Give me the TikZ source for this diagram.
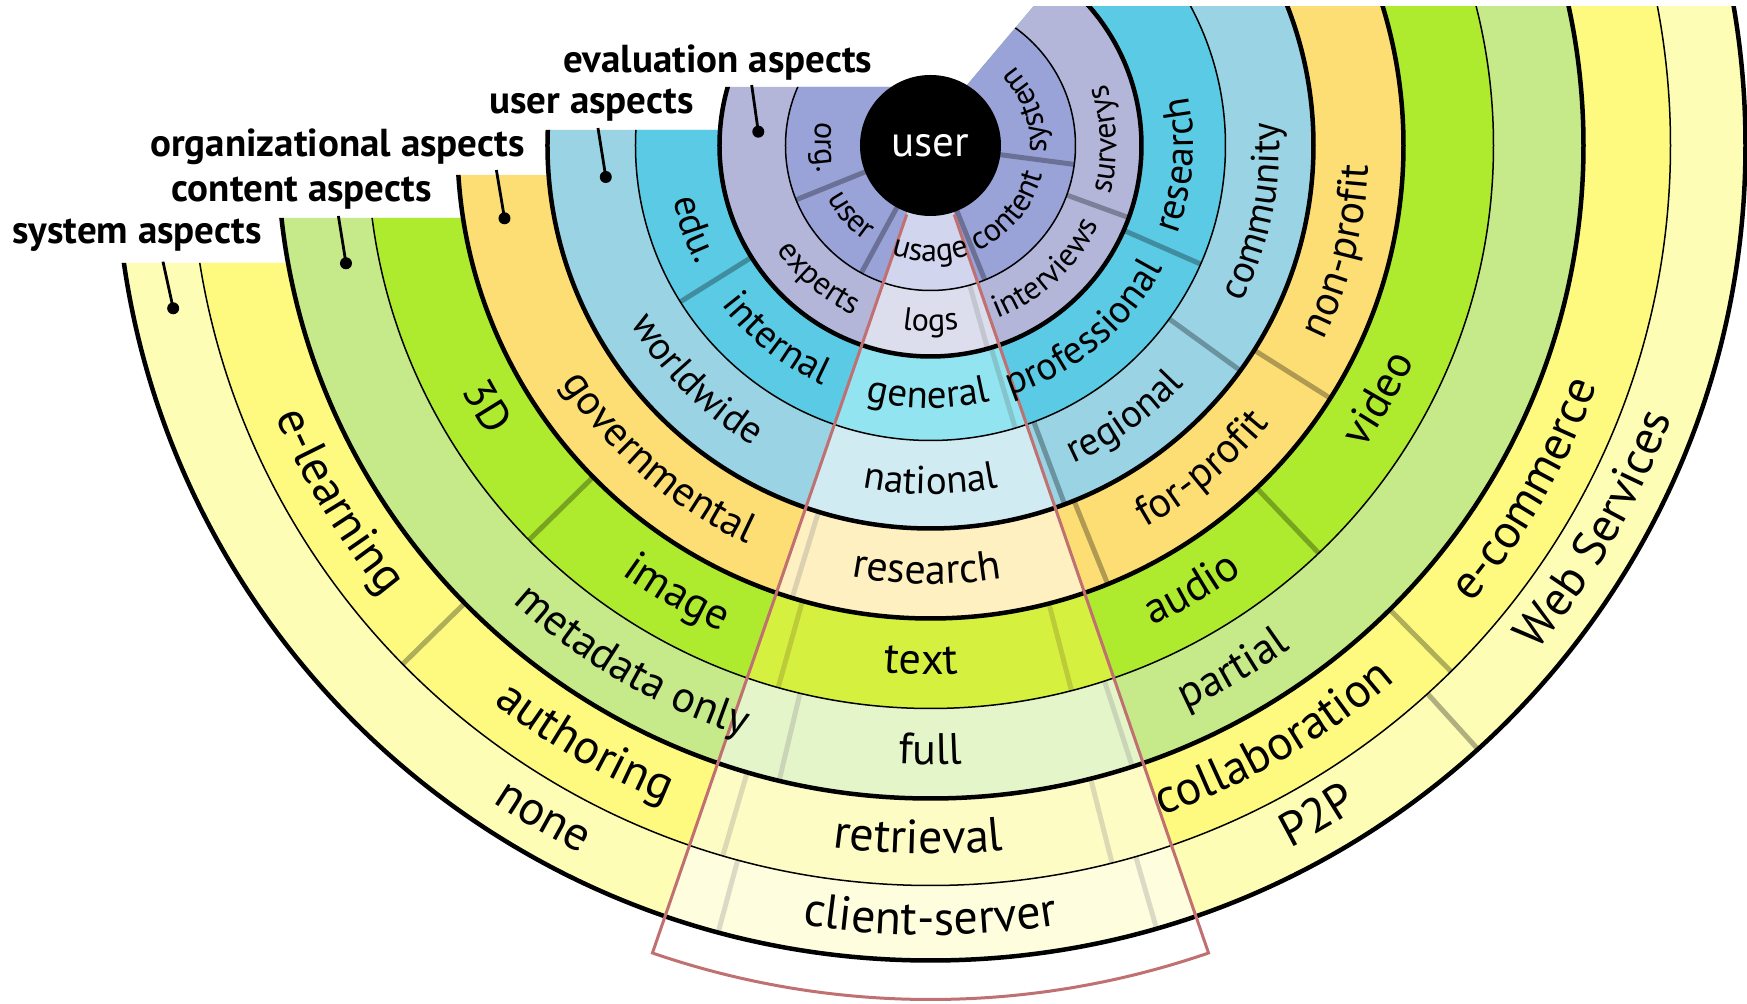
\documentclass[tikz,border=0pt]{standalone}
\usepackage{fontspec}
\setmainfont{PT Sans}
\usetikzlibrary{decorations.text}

\definecolor{evI}{HTML}{9AA3D8}
\definecolor{evO}{HTML}{B3B6D9}
\definecolor{usI}{HTML}{5BCAE4}
\definecolor{usO}{HTML}{9AD4E4}
\definecolor{orgC}{HTML}{FDDE75}
\definecolor{coI}{HTML}{AEEB2F}
\definecolor{coO}{HTML}{C6EA8A}
\definecolor{syI}{HTML}{FDFA7F}
\definecolor{syO}{HTML}{FDFDB6}
\definecolor{ovText}{HTML}{FFF550}
\definecolor{ovGen}{HTML}{C9FEFC}
\definecolor{wedgeRed}{HTML}{C07070}

\newcommand\fEv{\fontsize{16}{18}\selectfont}
\newcommand\fUs{\fontsize{19.5}{21}\selectfont}
\newcommand\fOr{\fontsize{21}{23}\selectfont}
\newcommand\fCo{\fontsize{22}{24}\selectfont}
\newcommand\fSy{\fontsize{24}{26}\selectfont}

% annular sector: style, start angle, end angle, inner r, outer r
\newcommand\annsec[5]{\fill[#1] ({#2}:{#4}) arc[start angle={#2},end angle={#3},radius={#4}] -- ({#3}:{#5}) arc[start angle={#3},end angle={#2},radius={#5}] -- cycle;}
% curved ring label: font, angle, baseline radius, text
\newcommand\rlab[4]{\path[decorate,decoration={text along path,text align=center,text={|#1|#4}}] ({#2-40}:{#3}) arc[start angle={#2-40},end angle={#2+40},radius={#3}];}
% clip of one group: horizontal cut on the left (y), corner on the diagonal (x)
\newcommand\grpclip[2]{\clip (-1000,#1) -- (#2,#1) -- (238.9,300) -- (1000,300) -- (1000,-1000) -- (-1000,-1000) -- cycle;}

\tikzset{
  sepline/.style={line width=2.5pt, black, opacity=0.3},
  thickring/.style={line width=2.25pt, black},
  thinring/.style={line width=0.75pt, black},
  ovl/.style={white, opacity=0.55},
  wedge/.style={line width=1.5pt, wedgeRed, line join=miter},
  grouplabel/.style={font={\fontsize{19.5}{21}\selectfont\bfseries}, inner sep=0pt, anchor=base east},
  leader/.style={line width=1.4pt, black},
}

\begin{document}
\begin{tikzpicture}[x=0.5pt,y=0.5pt]
\useasboundingbox (-930.5,-858.5) rectangle (816.5,145.5);
\fill[white] (-930.5,-858.5) rectangle (816.5,145.5);

\begin{scope}
\clip (-930.5,-858.5) rectangle (816.5,138.5);

% ---------- system aspects ----------
\begin{scope}
\grpclip{-117.5}{-113.5}
\fill[syO] (0,0) circle[radius=815];
\fill[syI] (0,0) circle[radius=740];
\foreach \a in {-105.1,-73.9,-47.8} \draw[sepline] (\a:740) -- (\a:815);
\foreach \a in {-135.5,-106.3,-75.8,-45.3} \draw[sepline] (\a:653) -- (\a:740);
\annsec{ovl}{-109}{-71}{740}{815}
\annsec{ovl}{-109}{-71}{653}{740}
\draw[thickring] (0,0) circle[radius=815];
\draw[thinring] (0,0) circle[radius=740];
\end{scope}

% ---------- content aspects ----------
\begin{scope}
\grpclip{-72.5}{-75.5}
\fill[coO] (0,0) circle[radius=653];
\fill[coI] (0,0) circle[radius=563];
\foreach \a in {-103.4,-72} \draw[sepline] (\a:563) -- (\a:653);
\foreach \a in {-135.5,-105.7,-75.5,-46.4} \draw[sepline] (\a:473) -- (\a:563);
\annsec{ovl}{-109}{-71}{563}{653}
\annsec{ovText,opacity=0.5}{-109}{-71}{473}{563}
\draw[thickring] (0,0) circle[radius=653];
\draw[thinring] (0,0) circle[radius=563];
\end{scope}

% ---------- organizational aspects ----------
\begin{scope}
\grpclip{-29.5}{-39.2}
\fill[orgC] (0,0) circle[radius=473];
\foreach \a in {-107,-68,-32.3} \draw[sepline] (\a:383) -- (\a:473);
\annsec{ovl}{-109}{-71}{383}{473}
\draw[thickring] (0,0) circle[radius=473];
\end{scope}

% ---------- user aspects ----------
\begin{scope}
\grpclip{15.5}{-1.3}
\fill[usO] (0,0) circle[radius=383];
\fill[usI] (0,0) circle[radius=295];
\foreach \a in {-69.5,-36} \draw[sepline] (\a:295) -- (\a:383);
\foreach \a in {-148,-73.3,-23.7} \draw[sepline] (\a:211) -- (\a:295);
\annsec{ovl}{-109}{-71}{295}{383}
\annsec{ovGen,opacity=0.5}{-109}{-71}{211}{295}
\draw[thickring] (0,0) circle[radius=383];
\draw[thinring] (0,0) circle[radius=295];
\end{scope}

% ---------- evaluation aspects ----------
\begin{scope}
\grpclip{58.5}{35}
\fill[evO] (0,0) circle[radius=211];
\fill[evI] (0,0) circle[radius=145];
\foreach \a in {-74.3,-20} \draw[sepline] (\a:145) -- (\a:211);
\foreach \a in {-158,-118.5,-68,-7.5} \draw[sepline] (\a:70) -- (\a:145);
\annsec{ovl}{-109}{-71}{145}{211}
\annsec{ovl}{-109}{-71}{70}{145}
\draw[thickring] (0,0) circle[radius=211];
\draw[thinring] (0,0) circle[radius=145];
\end{scope}

% highlighted wedge
\draw[wedge] (-109:73) -- (-109:854) arc[start angle=-109,end angle=-71,radius=854] -- (-71:73);

% centre
\node[circle, fill=black, inner sep=0pt, minimum size=70.5pt, text=white,
      font={\fontsize{21.5}{23}\selectfont}] (user) at (0,0) {user};

% ---------- ring labels ----------
\rlab{\fEv}{181}{115.75}{org.}
\rlab{\fEv}{-138.5}{115.75}{user}
\rlab{\fEv}{-90}{115.75}{usage}
\rlab{\fEv}{-40}{115.75}{content}
\rlab{\fEv}{20}{115.75}{system}
\rlab{\fEv}{-130}{186}{experts}
\rlab{\fEv}{-90}{186}{logs}
\rlab{\fEv}{-47}{186}{interviews}
\rlab{\fEv}{2}{186}{surverys}

\rlab{\fUs}{-160.5}{262.75}{edu.}
\rlab{\fUs}{-128.5}{262.75}{internal}
\rlab{\fUs}{-90.5}{262.75}{general}
\rlab{\fUs}{-50}{262.75}{professional}
\rlab{\fUs}{-4.5}{262.75}{research}
\rlab{\fUs}{-135}{348.75}{worldwide}
\rlab{\fUs}{-90}{348.75}{national}
\rlab{\fUs}{-54.5}{348.75}{regional}
\rlab{\fUs}{-11.5}{348.75}{community}

\rlab{\fOr}{-131}{438.5}{governmental}
\rlab{\fOr}{-90.5}{438.5}{research}
\rlab{\fOr}{-50}{438.5}{for-profit}
\rlab{\fOr}{-14.5}{438.5}{non-profit}

\rlab{\fCo}{-149.5}{529}{3D}
\rlab{\fCo}{-119.5}{529}{image}
\rlab{\fCo}{-91}{529}{text}
\rlab{\fCo}{-59.5}{529}{audio}
\rlab{\fCo}{-29.5}{529}{video}
\rlab{\fCo}{-120}{619}{metadata only}
\rlab{\fCo}{-90}{619}{full}
\rlab{\fCo}{-60}{619}{partial}

\rlab{\fSy}{-149}{708.5}{e-learning}
\rlab{\fSy}{-120}{708.5}{authoring}
\rlab{\fSy}{-91}{708.5}{retrieval}
\rlab{\fSy}{-60}{708.5}{collaboration}
\rlab{\fSy}{-30}{708.5}{e-commerce}
\rlab{\fSy}{-120}{789.5}{none}
\rlab{\fSy}{-90}{789.5}{client-server}
\rlab{\fSy}{-60}{789.5}{P2P}
\rlab{\fSy}{-30}{789.5}{Web Services}
\end{scope}

% ---------- group labels ----------
\node[grouplabel] (labEval) at (-57.8,72.8) {evaluation aspects};
\node[grouplabel] (labUser) at (-236.5,32.2) {user aspects};
\node[grouplabel] (labOrg) at (-405.5,-11.2) {organizational aspects};
\node[grouplabel] (labCont) at (-498.5,-56.2) {content aspects};
\node[grouplabel] (labSys) at (-668.5,-97.8) {system aspects};

\coordinate (ldEvalA) at (-178.8,60.5);  \coordinate (ldEvalB) at (-172.2,13.8);
\coordinate (ldUserA) at (-332.5,17.5);  \coordinate (ldUserB) at (-324.7,-31.5);
\coordinate (ldOrgA)  at (-434.1,-24.5); \coordinate (ldOrgB)  at (-426,-72.8);
\coordinate (ldContA) at (-592.1,-70.5); \coordinate (ldContB) at (-584.5,-117.8);
\coordinate (ldSysA)  at (-767.5,-116.2);\coordinate (ldSysB)  at (-757.3,-162.8);
\foreach \n in {Eval,User,Org,Cont,Sys}{
  \draw[leader] (ld\n A) -- (ld\n B);
  \fill (ld\n B) circle[radius=6];
}
\end{tikzpicture}
\end{document}
